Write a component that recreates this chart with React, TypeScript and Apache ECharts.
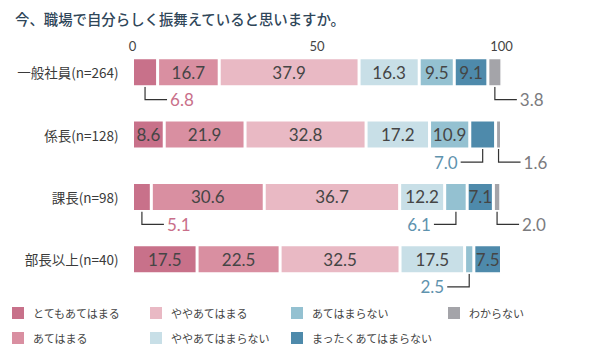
import React, { useEffect, useRef } from "react";
import * as echarts from "echarts";

const titleText = "今、職場で自分らしく振舞えていると思いますか。";
const categories = ["一般社員(n=264)", "係長(n=128)", "課長(n=98)", "部長以上(n=40)"];
const seriesNames = [
  "とてもあてはまる",
  "あてはまる",
  "ややあてはまる",
  "ややあてはまらない",
  "あてはまらない",
  "まったくあてはまらない",
  "わからない",
];
const veryTrue = [6.8, 8.6, 5.1, 17.5];
const trueVals = [16.7, 21.9, 30.6, 22.5];
const somewhatTrue = [37.9, 32.8, 36.7, 32.5];
const somewhatNot = [16.3, 17.2, 12.2, 17.5];
const notTrue = [9.5, 10.9, 6.1, 2.5];
const notAtAll = [9.1, 7.0, 7.1, 7.5];
const unknown = [3.8, 1.6, 2.0, 0];
const seriesValues = [veryTrue, trueVals, somewhatTrue, somewhatNot, notTrue, notAtAll, unknown];
const xTicks = [0, 50, 100];

// [seriesIndex, categoryIndex, side] — values shown outside the bar with a leader line
const callouts: [number, number, "left" | "right"][] = [
  [0, 0, "right"],
  [6, 0, "right"],
  [5, 1, "left"],
  [6, 1, "right"],
  [0, 2, "right"],
  [4, 2, "left"],
  [6, 2, "right"],
  [4, 3, "left"],
];

const colors = ["#c8718a", "#d98fa1", "#e9b9c4", "#c8dfe7", "#94c1d1", "#4e8aab", "#a4a4a9"];
const calloutColors = ["#c96f8a", "#c96f8a", "#c96f8a", "#6a9cb6", "#5f93ae", "#5f93ae", "#7b7b7e"];

const legendPos = [
  [10, 305],
  [10, 330],
  [148, 305],
  [148, 330],
  [289, 305],
  [289, 330],
  [446, 305],
];

const numFont = "Lato, 'Noto Sans', sans-serif";
const cjkFont = "'Noto Sans CJK JP', 'Noto Sans', sans-serif";

export default function App() {
  const ref = useRef<HTMLDivElement>(null);
  useEffect(() => {
    document.body.style.margin = "0";
    if (!ref.current) return;
    const chart = echarts.init(ref.current, null, { renderer: "svg" });
    const isCallout = (s: number, c: number) => callouts.some((k) => k[0] === s && k[1] === c);
    const barWidth = 29;
    chart.setOption({
      animation: false,
      title: {
        text: titleText,
        left: 10,
        top: 6,
        textStyle: { fontSize: 14.4, fontWeight: 500, color: "#2f4659", fontFamily: cjkFont },
      },
      grid: { left: 132.5, right: 95.5, top: 41, bottom: 62.5, containLabel: false },
      xAxis: {
        type: "value",
        position: "top",
        min: xTicks[0],
        max: xTicks[xTicks.length - 1],
        interval: 50,
        offset: -13,
        axisLine: { show: false },
        axisTick: { show: false },
        splitLine: { show: false },
        axisLabel: { margin: 2, fontSize: 13, color: "#444", fontFamily: numFont },
      },
      yAxis: {
        type: "category",
        inverse: true,
        data: categories,
        axisLine: { show: false },
        axisTick: { show: false },
        axisLabel: { margin: 14, fontSize: 13.5, color: "#3a3a3a", fontFamily: cjkFont },
      },
      legend: seriesNames.map((n, i) => ({
        data: [n],
        left: legendPos[i][0],
        top: legendPos[i][1],
        padding: 0,
        itemWidth: 14,
        itemHeight: 14,
        icon: "rect",
        selectedMode: false,
        textStyle: { fontSize: 11, color: "#444", fontFamily: cjkFont, padding: [0, 0, 0, 3] },
      })),
      series: seriesNames.map((n, s) => ({
        name: n,
        type: "bar",
        stack: "total",
        barWidth,
        itemStyle: { color: colors[s], borderColor: "#fff", borderWidth: 1.5 },
        label: {
          position: "inside",
          fontSize: 17,
          color: "#454545",
          fontFamily: numFont,
          formatter: (p: any) => Number(p.value).toFixed(1),
        },
        data: seriesValues[s].map((v, c) => ({
          value: v,
          label: { show: v > 0 && !isCallout(s, c) },
        })),
      })),
    });

    const graphics: any[] = [];
    callouts.forEach(([s, c, side]) => {
      let start = 0;
      for (let k = 0; k < s; k++) start += seriesValues[k][c];
      const v = seriesValues[s][c];
      const mid = start + v / 2;
      const pt = chart.convertToPixel({ gridIndex: 0 }, [mid, c]) as number[];
      if (!pt) return;
      const x = pt[0];
      const yb = pt[1] + barWidth / 2;
      const yl = yb + 13;
      const dir = side === "right" ? 1 : -1;
      graphics.push({
        type: "polyline",
        shape: { points: [[x, yb], [x, yl], [x + dir * 22, yl]] },
        style: { stroke: "#333", lineWidth: 1.2, fill: null },
        silent: true,
      });
      graphics.push({
        type: "text",
        x: x + dir * 25,
        y: yl,
        style: {
          text: v.toFixed(1),
          fill: calloutColors[s],
          fontSize: 17,
          fontFamily: numFont,
          align: side === "right" ? "left" : "right",
          verticalAlign: "middle",
        },
        silent: true,
      });
    });
    chart.setOption({ graphic: graphics });
    return () => chart.dispose();
  }, []);
  return <div ref={ref} style={{ width: 597, height: 353 }} />;
}
